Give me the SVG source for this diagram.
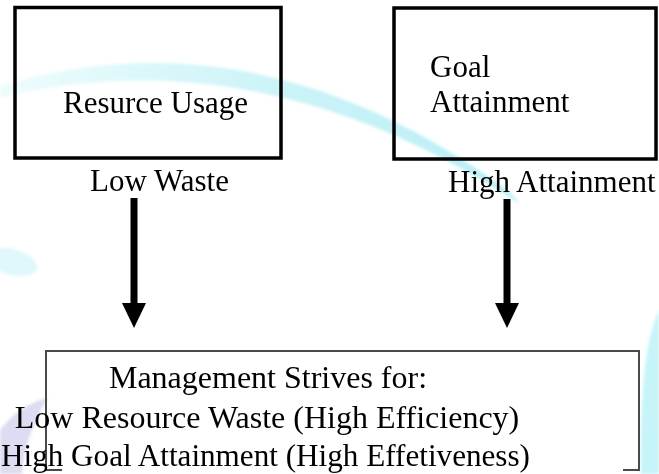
<svg xmlns="http://www.w3.org/2000/svg" width="659" height="474" viewBox="0 0 659 474">
  <style>
    .lbl { font-family: "Liberation Serif", "Times New Roman", serif; font-size: 31px; fill: #000; }
    .big { font-size: 32px; }
    .box { fill: none; stroke: #000; stroke-width: 3.5; }
    .outer { fill: none; stroke: #4a4a4a; stroke-width: 2; }
    .shaft { stroke: #000; stroke-width: 7; fill: none; }
    .head { fill: #000; }
  </style>
  <defs>
    <linearGradient id="swoosh" x1="0" y1="0" x2="1" y2="0">
      <stop offset="0" stop-color="#eefcfd"/>
      <stop offset="0.5" stop-color="#cdf4f8"/>
      <stop offset="1" stop-color="#b9eef5"/>
    </linearGradient>
    <filter id="soft" x="-20%" y="-20%" width="140%" height="140%">
      <feGaussianBlur stdDeviation="1.5"/>
    </filter>
  </defs>

  <!-- background watermark swooshes -->
  <g id="watermark" filter="url(#soft)">
    <path d="M0,86 C120,50 300,38 510,192 L520,204 C310,66 130,66 0,98 Z" fill="url(#swoosh)"/>
    <ellipse cx="12" cy="262" rx="26" ry="13" transform="rotate(15 12 262)" fill="#e0f8fb"/>
    <path d="M0,474 L0,430 C14,412 30,402 48,398 C34,420 24,446 22,474 Z" fill="#dcdcf2"/>
    <path d="M659,310 C646,338 640,385 641,474 L659,474 Z" fill="#c6f4f9"/>
  </g>

  <!-- connectors -->
  <g id="connectors">
    <line class="shaft" x1="134" y1="198" x2="134" y2="305"/>
    <polygon class="head" points="122,303 146,303 134,328"/>
    <line class="shaft" x1="507" y1="199" x2="507" y2="305"/>
    <polygon class="head" points="495,303 519,303 507,328"/>
  </g>

  <g id="resource-usage">
    <rect class="box" x="15" y="7.5" width="266" height="150.5"/>
    <text class="lbl" x="63" y="113">Resurce Usage</text>
  </g>
  <text class="lbl" id="low-waste" x="90" y="191">Low Waste</text>

  <g id="goal-attainment">
    <rect class="box" x="394" y="8" width="262" height="151"/>
    <text class="lbl" x="430" y="77">Goal</text>
    <text class="lbl" x="430" y="112">Attainment</text>
  </g>
  <text class="lbl" id="high-attainment" x="448" y="192">High Attainment</text>

  <g id="management">
    <path class="outer" d="M62,470 H46 V351 H639 V470 H623"/>
    <text class="lbl big" text-anchor="middle" x="268" y="388">Management Strives for:</text>
    <text class="lbl big" text-anchor="middle" x="267" y="428">Low Resource Waste (High Efficiency)</text>
    <text class="lbl big" x="1" y="466" textLength="529" lengthAdjust="spacingAndGlyphs">High Goal Attainment (High Effetiveness)</text>
  </g>
</svg>
